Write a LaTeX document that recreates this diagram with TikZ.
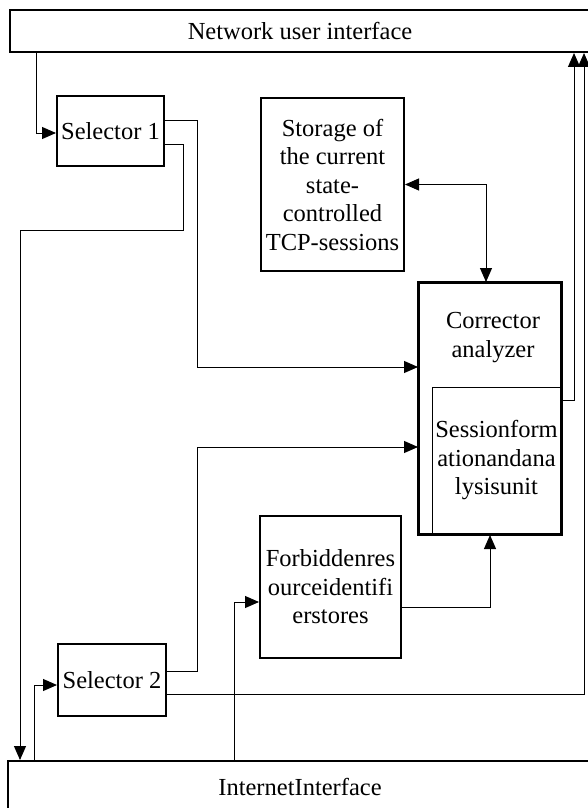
\documentclass[tikz,border=0pt]{standalone}
\usepackage{fontspec}
\setmainfont{Liberation Serif}
\usetikzlibrary{arrows.meta,calc}
\begin{document}
\begin{tikzpicture}[x=1pt,y=-1pt,
  font=\fontsize{24.5}{28.5}\selectfont,
  block/.style={draw,line width=2pt,rectangle,inner sep=0pt,align=center},
  inner/.style={draw,line width=1pt,rectangle,inner sep=0pt,align=center},
  conn/.style={line width=1pt,-{Triangle[length=14pt,width=12pt]}},
  conn2/.style={line width=1pt,{Triangle[length=14pt,width=12pt]}-{Triangle[length=14pt,width=12pt]}},
  plain/.style={line width=1pt}]
\useasboundingbox (0,0) rectangle (588,808);
\clip (0,0) rectangle (588,808);
\fill[white] (0,0) rectangle (588,808);

% blocks
\node[block,minimum width=580pt,minimum height=42pt] (top) at (300,31) {Network user interface};
\node[block,minimum width=584pt,minimum height=52pt] (inet) at (300,787) {InternetInterface};
\node[block,minimum width=107pt,minimum height=70pt] (sel1) at (110.5,131) {Selector 1};
\node[block,minimum width=108pt,minimum height=72pt] (sel2) at (112,680) {Selector 2};
\node[block,minimum width=143pt,minimum height=173pt] (stor) at (332.5,184.5)
  {Storage of\\the current\\state-\\controlled\\TCP-sessions};
\node[block,minimum width=141pt,minimum height=142pt] (forb) at (330.5,587)
  {Forbiddenres\\ourceidentifi\\erstores};
\node[block,minimum width=142pt,minimum height=251pt] (corr) at (490,408.5) {};
\node[align=center,inner sep=0pt] (corrlbl) at (493,337.5) {Corrector\\analyzer};
\node[inner,minimum width=129pt,minimum height=147pt] (sfa) at (496.5,460.5)
  {Sessionform\\ationandana\\lysisunit};
\draw[line width=2pt] (corr.north west) rectangle (corr.south east);

% connectors
\draw[conn] ($(top.south west)+(27,0)$) |- ($(sel1.west)+(0,2)$);
\draw[conn] ($(sel1.east)+(0,-11)$) -- ++(32,0) |- ($(corr.west)+(0,-41.5)$);
\draw[conn] ($(sel1.east)+(0,13)$) -- ++(18,0) -- ++(0,86) -| ($(inet.north west)+(13,0)$);
\draw[conn2] (stor.east) -| ($(corr.north)+(-4,0)$);
\draw[conn] ($(sfa.north east)+(0,14)$) -| ($(top.south west)+(565,0)$);
\draw[conn] ($(sel2.east)+(0,14)$) -| ($(top.south west)+(575,0)$);
\draw[conn] ($(sel2.east)+(0,-9)$) -- ++(30,0) |- ($(corr.west)+(0,38.5)$);
\draw[conn] ($(inet.north west)+(27,0)$) |- ($(sel2.west)+(0,5)$);
\draw[conn] ($(inet.north west)+(227,0)$) |- ($(forb.west)+(0,15)$);
\draw[conn] ($(forb.east)+(0,20)$) -| (corr.south);
\end{tikzpicture}
\end{document}
